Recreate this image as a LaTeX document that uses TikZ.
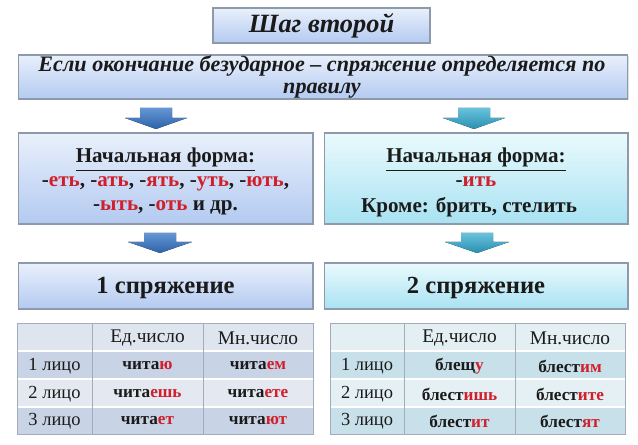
\documentclass[tikz,border=0pt]{standalone}
\usepackage{fontspec}
\setmainfont{Liberation Serif}
\usetikzlibrary{shadows}
\definecolor{txt}{HTML}{1A1A1A}
\definecolor{rd}{HTML}{D0202C}
\definecolor{bord}{HTML}{8E9AAA}
\definecolor{btop}{HTML}{E9F0FB}
\definecolor{bbot}{HTML}{B3CAF1}
\definecolor{ctop}{HTML}{EAFAFD}
\definecolor{cbot}{HTML}{A8E2F2}
\definecolor{arrL}{HTML}{3E7CCB}
\definecolor{arrLd}{HTML}{2C62A8}
\definecolor{arrR}{HTML}{42B3D3}
\definecolor{arrRd}{HTML}{2A8FB0}
\definecolor{lhead}{HTML}{DFE5EF}
\definecolor{lodd}{HTML}{C9D3E6}
\definecolor{leven}{HTML}{E3E8F1}
\definecolor{rhead}{HTML}{E3EFF3}
\definecolor{rodd}{HTML}{C8E0E9}
\definecolor{reven}{HTML}{E4F0F4}
\definecolor{grid}{HTML}{A3ACBA}
\newcommand{\rE}[1]{\textcolor{rd}{#1}}
\begin{document}
\begin{tikzpicture}[x=0.02cm,y=-0.02cm,
  bluebox/.style={draw=bord,line width=0.6pt,top color=btop,bottom color=bbot,inner sep=0pt,
    drop shadow={opacity=0.25,shadow xshift=0.8pt,shadow yshift=-0.8pt}},
  cyanbox/.style={draw=bord,line width=0.6pt,top color=ctop,bottom color=cbot,inner sep=0pt,
    drop shadow={opacity=0.25,shadow xshift=0.8pt,shadow yshift=-0.8pt}},
  lbl/.style={text=txt,inner sep=0pt,anchor=base},
  headtxt/.style={text=txt,inner sep=0pt,font=\fontsize{11}{13}\selectfont},
  celltxt/.style={text=txt,inner sep=0pt,font=\fontsize{10.5}{12}\selectfont},
  cellbold/.style={text=txt,inner sep=0pt,font=\fontsize{9.8}{12}\selectfont\bfseries},
  gridline/.style={draw=grid,line width=0.5pt},
  arrowL/.style={top color=arrL!80!white,bottom color=arrLd,draw=none},
  arrowR/.style={top color=arrR!80!white,bottom color=arrRd,draw=none}
]
\useasboundingbox (0,0) rectangle (638,445);
\fill[white] (0,0) rectangle (638,445);

% title
\node[bluebox,minimum width=4.34cm,minimum height=0.70cm] (title) at (321.5,25.5) {};
\node[lbl,font=\fontsize{15}{18}\selectfont\bfseries\itshape] (titletxt) at (321.5,33) {Шаг второй};

% subtitle
\node[bluebox,minimum width=12.2cm,minimum height=0.88cm] (sub) at (323,77) {};
\node[lbl,font=\fontsize{12.6}{15}\selectfont\bfseries\itshape] (sub1) at (322,72) {Если окончание безударное – спряжение определяется по};
\node[lbl,font=\fontsize{12.6}{15}\selectfont\bfseries\itshape] (sub2) at (322,94) {правилу};

% boxes
\node[bluebox,minimum width=5.9cm,minimum height=1.82cm] (A) at (165.5,178.5) {};
\node[cyanbox,minimum width=6.08cm,minimum height=1.82cm] (B) at (476,178.5) {};
\node[bluebox,minimum width=5.9cm,minimum height=0.92cm] (C) at (165.5,286) {};
\node[cyanbox,minimum width=6.08cm,minimum height=0.92cm] (D) at (476,286) {};

\begin{scope}[font=\fontsize{12}{14}\selectfont\bfseries]
\node[lbl] (a1) at (165.5,163) {\underline{Начальная форма:}};
\node[lbl] (a2) at (165.5,187) {-\rE{еть}, -\rE{ать}, -\rE{ять}, -\rE{уть}, -\rE{ють},};
\node[lbl] (a3) at (165.5,211) {-\rE{ыть}, -\rE{оть} и др.};
\node[lbl] (b1) at (476,163) {\underline{Начальная форма:}};
\node[lbl] (b2) at (476,187) {-\rE{ить}};
\node[lbl] (b3) at (469,213) {Кроме: брить, стелить};
\end{scope}
\node[lbl,font=\fontsize{14}{16}\selectfont\bfseries] (c1) at (165.5,294) {1 спряжение};
\node[lbl,font=\fontsize{14}{16}\selectfont\bfseries] (d1) at (476,294) {2 спряжение};

% block arrows
\coordinate (arr1) at (156,108);
\coordinate (arr2) at (474,108);
\coordinate (arr3) at (160,233);
\coordinate (arr4) at (477,233);
\fill[arrowL] (arr1) ++(-16,0) -- ++(32,0) -- ++(0,10) -- ++(15,0) -- ++(-31,11) -- ++(-31,-11) -- ++(15,0) -- cycle;
\fill[arrowR] (arr2) ++(-16,0) -- ++(32,0) -- ++(0,10) -- ++(15,0) -- ++(-31,11) -- ++(-31,-11) -- ++(15,0) -- cycle;
\fill[arrowL] (arr3) ++(-16,0) -- ++(32,0) -- ++(0,9) -- ++(16,0) -- ++(-32,11) -- ++(-32,-11) -- ++(16,0) -- cycle;
\fill[arrowR] (arr4) ++(-16,0) -- ++(32,0) -- ++(0,9) -- ++(16,0) -- ++(-32,11) -- ++(-32,-11) -- ++(16,0) -- cycle;

% left table
\fill[lhead] (17,323) rectangle (313,351);
\fill[lodd] (17,351) rectangle (313,379);
\fill[leven] (17,379) rectangle (313,407);
\fill[lodd] (17,407) rectangle (313,434);
\draw[white,line width=1pt] (17,351) -- (313,351) (17,379) -- (313,379) (17,407) -- (313,407);
\draw[gridline] (92,323) -- (92,434) (203,323) -- (203,434);
\draw[gridline] (17,323) rectangle (313,434);

\node[headtxt] (l01) at (147.5,338) {Ед.число};
\node[headtxt] (l02) at (258,338) {Мн.число};
\node[celltxt] (l10) at (54.5,366) {1 лицо};
\node[celltxt] (l20) at (54.5,394) {2 лицо};
\node[celltxt] (l30) at (54.5,421) {3 лицо};
\node[cellbold] (l11) at (147.5,366) {чита\rE{ю}};
\node[cellbold] (l12) at (258,366) {чита\rE{ем}};
\node[cellbold] (l21) at (147.5,394) {чита\rE{ешь}};
\node[cellbold] (l22) at (258,394) {чита\rE{ете}};
\node[cellbold] (l31) at (147.5,421) {чита\rE{ет}};
\node[cellbold] (l32) at (258,421) {чита\rE{ют}};

% right table
\fill[rhead] (330,323) rectangle (625,351);
\fill[rodd] (330,351) rectangle (625,379);
\fill[reven] (330,379) rectangle (625,407);
\fill[rodd] (330,407) rectangle (625,434);
\draw[white,line width=1pt] (330,351) -- (625,351) (330,379) -- (625,379) (330,407) -- (625,407);
\draw[gridline] (404,323) -- (404,434) (515,323) -- (515,434);
\draw[gridline] (330,323) rectangle (625,434);

\node[headtxt] (r01) at (459.5,338) {Ед.число};
\node[headtxt] (r02) at (570,338) {Мн.число};
\node[celltxt] (r10) at (367,366) {1 лицо};
\node[celltxt] (r20) at (367,394) {2 лицо};
\node[celltxt] (r30) at (367,421) {3 лицо};
\node[cellbold] (r11) at (459.5,366) {блещ\rE{у}};
\node[cellbold] (r12) at (570,366) {блест\rE{им}};
\node[cellbold] (r21) at (459.5,394) {блест\rE{ишь}};
\node[cellbold] (r22) at (570,394) {блест\rE{ите}};
\node[cellbold] (r31) at (459.5,421) {блест\rE{ит}};
\node[cellbold] (r32) at (570,421) {блест\rE{ят}};
\end{tikzpicture}
\end{document}
